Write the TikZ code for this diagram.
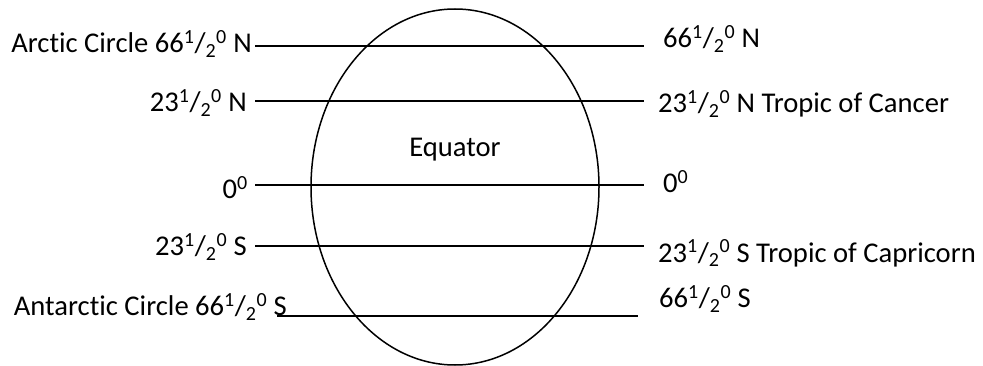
\documentclass[tikz,border=0pt]{standalone}
\usepackage{fontspec}
\setmainfont[Ligatures=NoCommon]{Carlito}
\usepackage{tikz}

\newcommand{\halfdeg}{\textsuperscript{1}/\textsubscript{2}\textsuperscript{0}}
\newcommand{\zerodeg}{0\textsuperscript{0}}

\begin{document}
\begin{tikzpicture}[
  x=1pt, y=-1pt,
  lat/.style={line width=1.5pt},
  globe/.style={draw, line width=1.5pt},
  lbl/.style={inner sep=0pt, font=\fontsize{28.6}{34}\selectfont}
]
  \useasboundingbox (0,0) rectangle (983,366);

  % Globe
  \draw[globe] (455,187) ellipse [x radius=144, y radius=178];
  \node[lbl, anchor=base] (equator) at (455,157) {Equator};

  % Left labels
  \node[lbl, anchor=base east] (arcticL) at (252,53) {Arctic Circle 66\halfdeg{} N};
  \node[lbl, anchor=base east] (cancerL) at (247,112) {23\halfdeg{} N};
  \node[lbl, anchor=base east] (zeroL) at (248,199) {\zerodeg};
  \node[lbl, anchor=base east] (capricornL) at (247,256) {23\halfdeg{} S};
  \node[lbl, anchor=base east] (antarcticL) at (287,316) {Antarctic Circle 66\halfdeg{} S};

  % Right labels
  \node[lbl, anchor=base west] (arcticR) at (663,48) {66\halfdeg{} N};
  \node[lbl, anchor=base west] (cancerR) at (658,113) {23\halfdeg{} N Tropic of Cancer};
  \node[lbl, anchor=base west] (zeroR) at (663,193) {\zerodeg};
  \node[lbl, anchor=base west] (capricornR) at (658,262) {23\halfdeg{} S Tropic of Capricorn};
  \node[lbl, anchor=base west] (antarcticR) at (659,308) {66\halfdeg{} S};

  % Line ends
  \coordinate (arcticW) at (255,46);
  \coordinate (arcticE) at (644,46);
  \coordinate (cancerW) at (255,101);
  \coordinate (cancerE) at (644,101);
  \coordinate (zeroW) at (255,185);
  \coordinate (zeroE) at (644,185);
  \coordinate (capricornW) at (255,246);
  \coordinate (capricornE) at (644,246);
  \coordinate (antarcticW) at (277,316);
  \coordinate (antarcticE) at (638,316);

  % Latitudes
  \draw[lat] (arcticW) -- (arcticE);
  \draw[lat] (cancerW) -- (cancerE);
  \draw[lat] (zeroW) -- (zeroE);
  \draw[lat] (capricornW) -- (capricornE);
  \draw[lat] (antarcticW) -- (antarcticE);

\end{tikzpicture}
\end{document}
